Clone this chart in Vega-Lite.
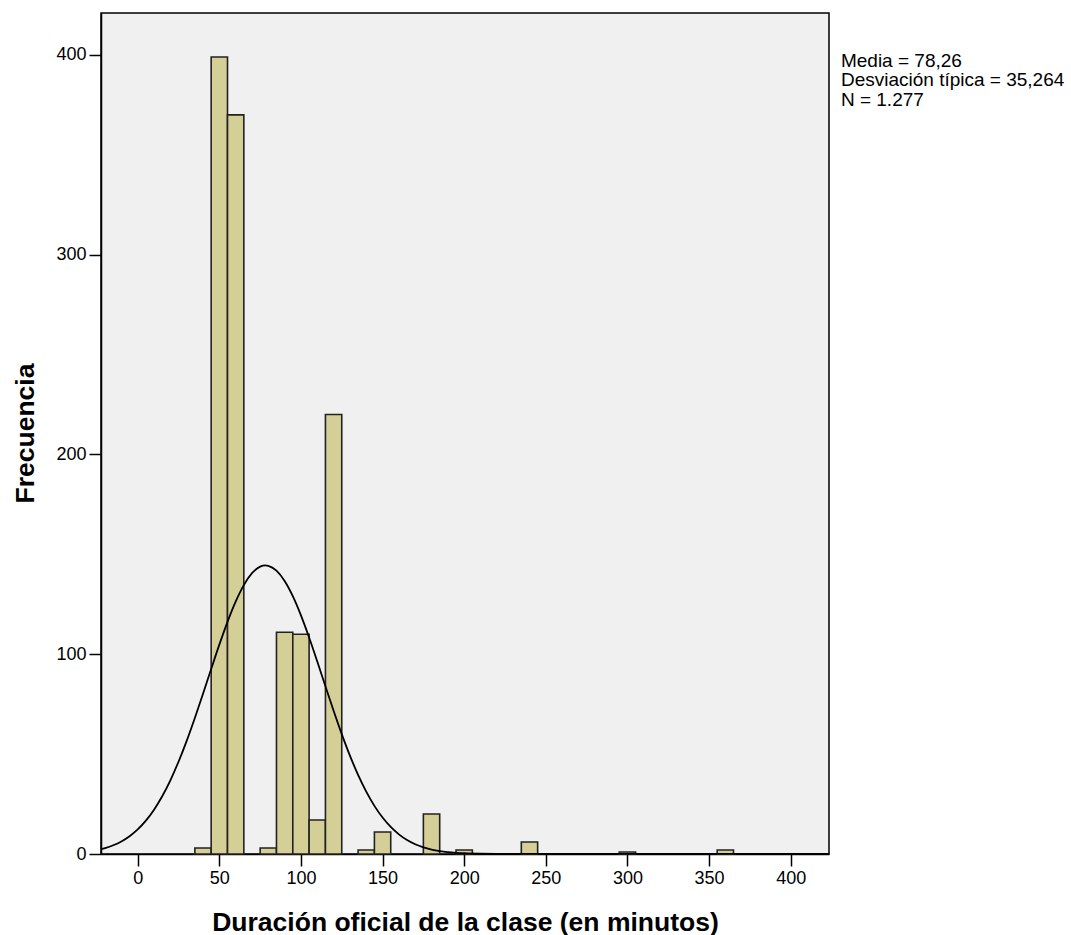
{
  "$schema": "https://vega.github.io/schema/vega-lite/v6.json",
  "autosize": "none",
  "padding": {"left": 101, "top": 13, "right": 242, "bottom": 81},
  "width": 728,
  "height": 841,
  "background": "#FFFFFF",
  "config": {
    "font": "Liberation Sans",
    "view": {"fill": "#F0F0F0", "stroke": "#000000", "strokeWidth": 1.5},
    "axis": {
      "grid": false,
      "domainColor": "#000000",
      "domainWidth": 1.5,
      "tickColor": "#000000",
      "tickWidth": 1.5,
      "tickSize": 12,
      "labelFontSize": 18,
      "labelColor": "#000000",
      "labelPadding": 3,
      "labelFlush": false,
      "labelFont": "Liberation Sans",
      "titleFont": "Liberation Sans",
      "titleFontSize": 26.5,
      "titleFontWeight": "bold",
      "titleColor": "#000000"
    }
  },
  "datasets": {
    "bins": [
      {"start": 35, "end": 45, "count": 3},
      {"start": 45, "end": 55, "count": 399},
      {"start": 55, "end": 65, "count": 370},
      {"start": 75, "end": 85, "count": 3},
      {"start": 85, "end": 95, "count": 111},
      {"start": 95, "end": 105, "count": 110},
      {"start": 105, "end": 115, "count": 17},
      {"start": 115, "end": 125, "count": 220},
      {"start": 135, "end": 145, "count": 2},
      {"start": 145, "end": 155, "count": 11},
      {"start": 175, "end": 185, "count": 20},
      {"start": 195, "end": 205, "count": 2},
      {"start": 235, "end": 245, "count": 6},
      {"start": 295, "end": 305, "count": 1},
      {"start": 355, "end": 365, "count": 2}
    ],
    "curve": [
      {"x": -25, "y": 1.99}, {"x": -20, "y": 2.98}, {"x": -15, "y": 4.38}, {"x": -10, "y": 6.30},
      {"x": -5, "y": 8.90}, {"x": 0, "y": 12.31}, {"x": 5, "y": 16.69}, {"x": 10, "y": 22.19},
      {"x": 15, "y": 28.90}, {"x": 20, "y": 36.91}, {"x": 25, "y": 46.18}, {"x": 30, "y": 56.63},
      {"x": 35, "y": 68.08}, {"x": 40, "y": 80.20}, {"x": 45, "y": 92.60}, {"x": 50, "y": 104.79},
      {"x": 55, "y": 116.23}, {"x": 60, "y": 126.34}, {"x": 65, "y": 134.61}, {"x": 70, "y": 140.56},
      {"x": 75, "y": 143.85}, {"x": 78.26, "y": 144.47}, {"x": 80, "y": 144.29}, {"x": 85, "y": 141.85},
      {"x": 90, "y": 136.68}, {"x": 95, "y": 129.08}, {"x": 100, "y": 119.47}, {"x": 105, "y": 108.37},
      {"x": 110, "y": 96.35}, {"x": 115, "y": 83.96}, {"x": 120, "y": 71.71}, {"x": 125, "y": 60.02},
      {"x": 130, "y": 49.24}, {"x": 135, "y": 39.59}, {"x": 140, "y": 31.20}, {"x": 145, "y": 24.10},
      {"x": 150, "y": 18.24}, {"x": 155, "y": 13.53}, {"x": 160, "y": 9.84}, {"x": 165, "y": 7.01},
      {"x": 170, "y": 4.90}, {"x": 175, "y": 3.35}, {"x": 180, "y": 2.25}, {"x": 185, "y": 1.48},
      {"x": 190, "y": 0.95}, {"x": 195, "y": 0.60}, {"x": 200, "y": 0.37}, {"x": 210, "y": 0.13},
      {"x": 220, "y": 0.04}, {"x": 240, "y": 0.004}, {"x": 260, "y": 0}, {"x": 300, "y": 0},
      {"x": 350, "y": 0}, {"x": 400, "y": 0}, {"x": 425, "y": 0}
    ]
  },
  "layer": [
    {
      "data": {"name": "bins"},
      "mark": {"type": "bar", "fill": "#D3CF97", "stroke": "#222222", "strokeWidth": 1.6},
      "encoding": {
        "x": {
          "field": "start",
          "type": "quantitative",
          "scale": {"domain": [-22.5, 423.5], "nice": false, "zero": false},
          "axis": {
            "values": [0, 50, 100, 150, 200, 250, 300, 350, 400],
            "title": "Duración oficial de la clase (en minutos)",
            "titleBaseline": "alphabetic",
            "titleY": 76
          }
        },
        "x2": {"field": "end"},
        "y": {
          "field": "count",
          "type": "quantitative",
          "scale": {"domain": [0, 421], "nice": false},
          "axis": {
            "values": [0, 100, 200, 300, 400],
            "title": "Frecuencia",
            "titleAngle": -90,
            "titleBaseline": "alphabetic",
            "titleAlign": "center",
            "titleX": -68,
            "titleY": 420
          }
        },
        "y2": {"datum": 0}
      }
    },
    {
      "data": {"name": "curve"},
      "mark": {"type": "line", "color": "#000000", "strokeWidth": 1.8, "clip": true, "interpolate": "monotone"},
      "encoding": {
        "x": {"field": "x", "type": "quantitative"},
        "y": {"field": "y", "type": "quantitative"}
      }
    },
    {
      "data": {"values": [{"stat": "summary"}]},
      "mark": {"type": "text", "align": "left", "baseline": "alphabetic", "fontSize": 19, "lineHeight": 19.5, "color": "#000000", "font": "Liberation Sans"},
      "encoding": {
        "x": {"datum": 430.8},
        "y": {"datum": 394},
        "text": {"value": ["Media = 78,26", "Desviación típica = 35,264", "N = 1.277"]}
      }
    }
  ]
}
